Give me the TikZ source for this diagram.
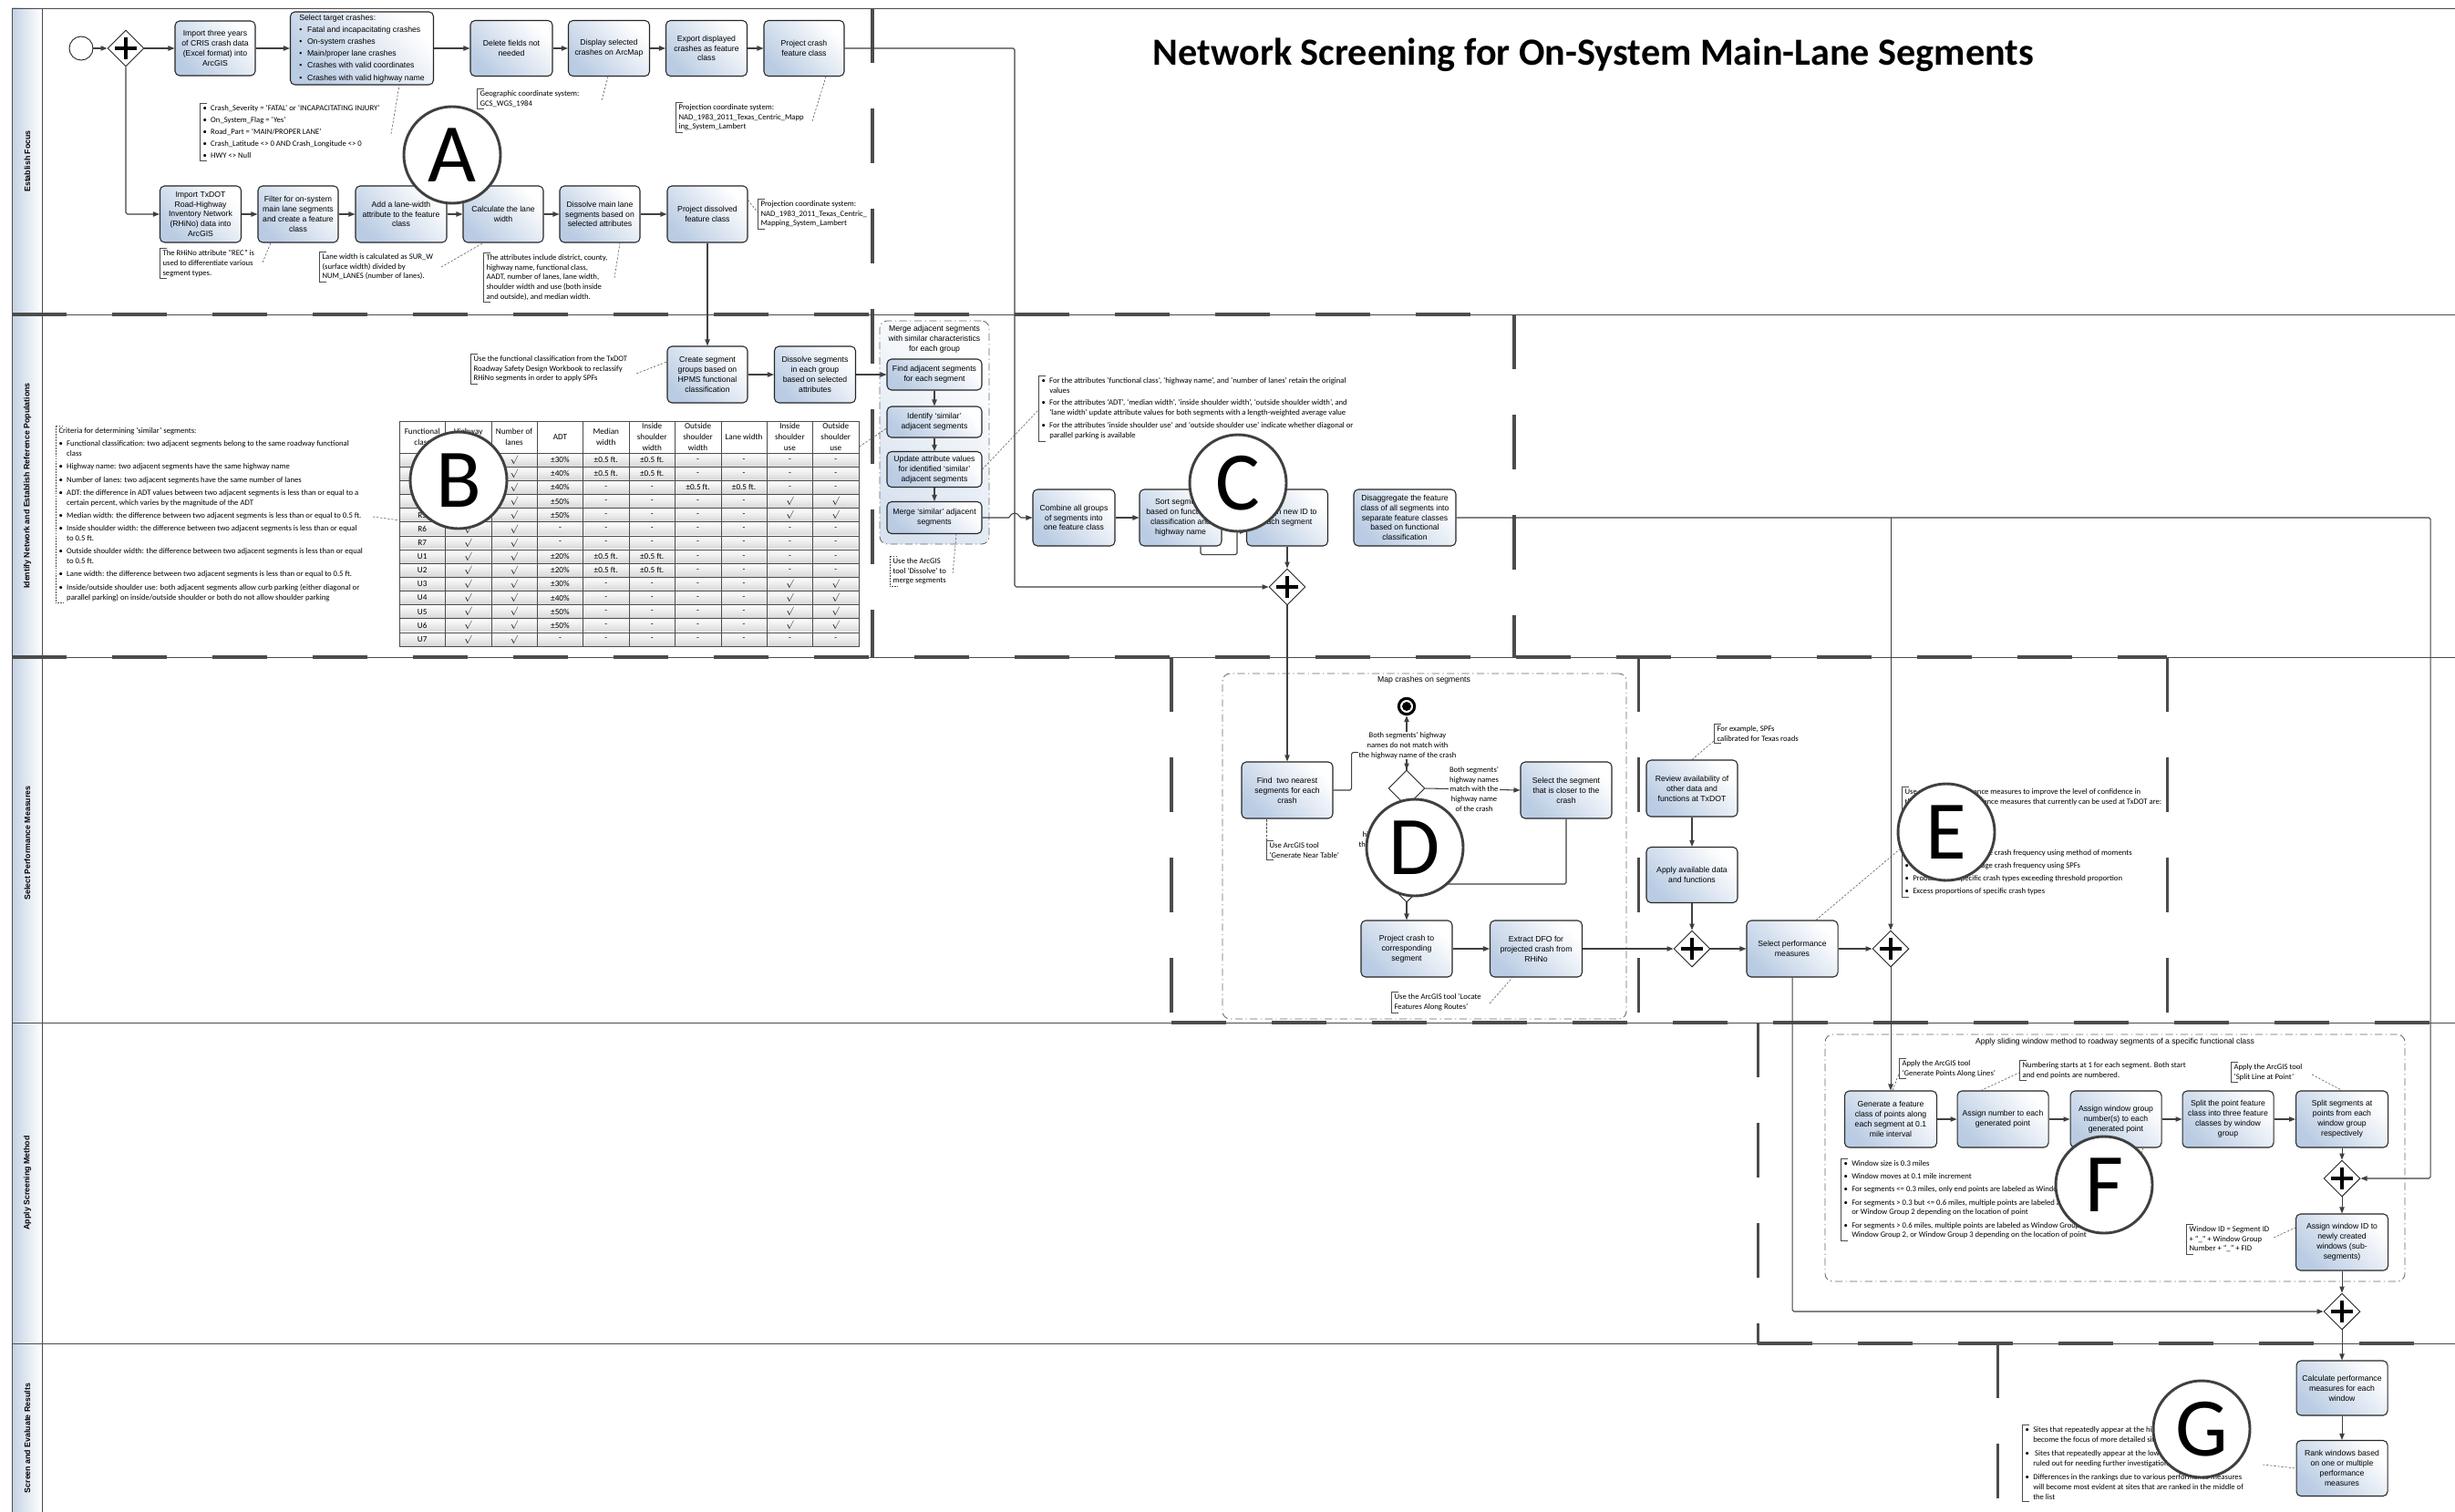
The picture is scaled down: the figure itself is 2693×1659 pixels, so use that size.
\documentclass[tikz,border=0pt]{standalone}
\usepackage{fontspec}
\setmainfont{Liberation Sans}
\newfontfamily\calib{Carlito}
\usepackage{tikz}
\usetikzlibrary{positioning}
\usetikzlibrary{shapes.geometric}
\usetikzlibrary{arrows.meta}
\usetikzlibrary{calc}
\usepackage{xcolor}

\definecolor{boxblue}{HTML}{BACCE3}
\definecolor{laneblue}{HTML}{C4D2E4}

\newcommand{\nbul}{\makebox[0.26cm][l]{\textbullet}}
\newcommand{\nind}{\hspace*{0.26cm}}
\newcommand{\tck}{$\surd$}
\newcommand{\thf}{±0.5 ft.}
\newcommand{\brak}[1]{\draw[notebr] ([xshift=0.25cm]#1.north west) -| (#1.south west) -- ++(0.25cm,0);}

\tikzset{
  wh/.style 2 args={minimum width=#1*0.03cm, minimum height=#2*0.03cm},
  box/.style={draw=black!85, line width=0.9pt, rounded corners=0.15cm, left color=boxblue, right color=white, shading angle=135, align=center, inner sep=1pt, font=\fontsize{7.4}{9.3}\selectfont},
  flow/.style={draw=black!75, line width=0.9pt, rounded corners=1.5pt, -{Triangle[length=0.21cm,width=0.16cm]}},
  assoc/.style={draw=black!70, line width=0.45pt, dash pattern=on 2pt off 1.5pt},
  notebr/.style={draw=black!70, line width=0.7pt},
  note/.style={anchor=north west, align=left, inner xsep=0.1cm, inner ysep=0.06cm, font=\calib\fontsize{7.4}{9.2}\selectfont},
  lbl/.style={fill=white, align=center, inner sep=0.5pt, font=\calib\fontsize{7.3}{9.3}\selectfont},
  gate/.style={diamond, draw=black!85, line width=0.8pt, fill=white, minimum width=1.2cm, minimum height=1.2cm, inner sep=0pt,
    path picture={\draw[line width=4pt, black] ([xshift=-0.36cm]path picture bounding box.center) -- ([xshift=0.36cm]path picture bounding box.center)
      ([yshift=-0.36cm]path picture bounding box.center) -- ([yshift=0.36cm]path picture bounding box.center);}},
  dec/.style={diamond, draw=black!85, line width=0.8pt, fill=white, minimum width=1.2cm, minimum height=1.2cm, inner sep=0pt},
  endev/.style={circle, draw=black, line width=2.6pt, fill=white, minimum size=0.52cm, inner sep=0pt,
    path picture={\fill[black] (path picture bounding box.center) circle (0.15cm);}},
  letter/.style={circle, draw=black!75, line width=2.5pt, fill=white, minimum size=3.18cm, inner sep=0pt, font=\calib\fontsize{78}{78}\selectfont},
  stepline/.style={draw=black!70, line width=2.6pt, dash pattern=on 1.8cm off 1.5cm},
  laneline/.style={draw=black!70, line width=0.7pt},
  lane/.style={draw=black!70, line width=0.7pt, left color=laneblue, right color=white},
  lanetxt/.style={rotate=90, font=\bfseries\fontsize{7.5}{9}\selectfont},
  grp/.style={draw=black!60, line width=0.7pt, rounded corners=0.25cm, dash pattern=on 7pt off 3pt on 1pt off 3pt},
  grpttl/.style={align=center, font=\fontsize{7.4}{9.3}\selectfont},
  tcell/.style={align=center, inner sep=0pt, font=\calib\fontsize{7.8}{10}\selectfont},
}

\begin{document}
\begin{tikzpicture}[x=0.03cm, y=-0.03cm]
\useasboundingbox (0,0) rectangle (2693,1659);
\clip (0,0) rectangle (2693,1659);
\fill[white] (0,0) rectangle (2693,1659);

%%%%%% lanes %%%
{
\foreach \ya/\yb in {9/345, 345/721, 721/1122, 1122/1474, 1474/1700}
  \draw[lane] (13,\ya) rectangle (46,\yb);
\draw[laneline] (46,9) -- (2693,9);
\foreach \yy in {345,721,1122,1474}
  \draw[laneline] (46,\yy) -- (2693,\yy);

\node[lanetxt] (lnA) at (30,177) {Establish Focus};
\node[lanetxt] (lnB) at (30,533) {Identify Network and Establish Reference Populations};
\node[lanetxt] (lnC) at (30,925) {Select Performance Measures};
\node[lanetxt] (lnD) at (30,1298) {Apply Screening Method};
\node[lanetxt] (lnE) at (30,1578) {Screen and Evaluate Results};
}

%%%%%% step borders %%%
{
\draw[stepline] (13,345) -- (1661,345);
\draw[stepline] (957,9) -- (957,721);
\draw[stepline] (13,721) -- (2377,721);
\draw[stepline] (1661,345) -- (1661,721);
\draw[stepline] (1285,721) -- (1285,1122);
\draw[stepline] (1797,721) -- (1797,1122);
\draw[stepline] (2377,721) -- (2377,1122);
\draw[stepline] (1285,1122) -- (2693,1122);
\draw[stepline] (1928,1122) -- (1928,1474);
\draw[stepline] (1928,1474) -- (2693,1474);
\draw[stepline] (2191,1474) -- (2191,1700);
}

\node[font=\calib\bfseries\fontsize{36}{40}\selectfont] (title) at (1748,60) {Network Screening for On-System Main-Lane Segments};

%%%%%%%%%% Establish Focus %%%%%%%%
{
\node[circle, draw=black!85, line width=0.8pt, fill=white, wh={26}{26}, inner sep=0pt] (start) at (89,53) {};
\node[gate] (gA) at (138,53) {};
\node[box, wh={88}{60}] (crisimp) at (236,53) {Import three years\\of CRIS crash data\\(Excel format) into\\ArcGIS};
\node[box, wh={157}{80}, align=left] (seltgt) at (397,53) {Select target crashes:\\[1.9pt]%
\nbul Fatal and incapacitating crashes\\[1.9pt]%
\nbul On-system crashes\\[1.9pt]%
\nbul Main/proper lane crashes\\[1.9pt]%
\nbul Crashes with valid coordinates\\[1.9pt]%
\nbul Crashes with valid highway name};
\node[box, wh={90}{61}] (delfld) at (561,53) {Delete fields not\\needed};
\node[box, wh={89}{61}] (dispcr) at (668,53) {Display selected\\crashes on ArcMap};
\node[box, wh={89}{61}] (expcr) at (775,53) {Export displayed\\crashes as feature\\class};
\node[box, wh={88}{61}] (prjcr) at (882,53) {Project crash\\feature class};

\node[box, wh={89}{62}] (rhino) at (220,235) {Import TxDOT\\Road-Highway\\Inventory Network\\(RHiNo) data into\\ArcGIS};
\node[box, wh={88}{62}] (filt) at (327,235) {Filter for on-system\\main lane segments\\and create a feature\\class};
\node[box, wh={100}{62}] (addlw) at (440,235) {Add a lane-width\\attribute to the feature\\class};
\node[box, wh={88}{62}] (calclw) at (552,235) {Calculate the lane\\width};
\node[box, wh={88}{62}] (dissml) at (658,235) {Dissolve main lane\\segments based on\\selected attributes};
\node[box, wh={88}{62}] (prjdis) at (776,235) {Project dissolved\\feature class};

\draw[flow] (start) -- (gA);
\draw[flow] (gA) -- (crisimp);
\draw[flow] (crisimp) -- (seltgt);
\draw[flow] (seltgt) -- (delfld);
\draw[flow] (delfld) -- (dispcr);
\draw[flow] (dispcr) -- (expcr);
\draw[flow] (expcr) -- (prjcr);
\draw[flow] (gA.south) |- (rhino.west);
\draw[flow] (rhino) -- (filt);
\draw[flow] (filt) -- (addlw);
\draw[flow] (addlw) -- (calclw);
\draw[flow] (calclw) -- (dissml);
\draw[flow] (dissml) -- (prjdis);

% notes
\node[note] (nsev) at (219,113) {\nbul Crash\_Severity = ‘FATAL’ or ‘INCAPACITATING INJURY’\\[2pt]%
\nbul On\_System\_Flag = ‘Yes’\\[2pt]%
\nbul Road\_Part = ‘MAIN/PROPER LANE’\\[2pt]%
\nbul Crash\_Latitude <> 0 AND Crash\_Longitude <> 0\\[2pt]%
\nbul HWY <> Null};
\brak{nsev}
\draw[assoc] ($(nsev.north west)+(210,34)$) -- ($(seltgt.south)+(41,0)$);

\node[note] (ngcs) at (523,97) {Geographic coordinate system:\\GCS\_WGS\_1984};
\brak{ngcs}
\draw[assoc] ($(ngcs.north west)+(137,13)$) -- ($(dispcr.south)+(-1,0)$);

\node[note] (nprja) at (741,112) {Projection coordinate system:\\NAD\_1983\_2011\_Texas\_Centric\_Mapp\\ing\_System\_Lambert};
\brak{nprja}
\draw[assoc] ($(nprja.north west)+(150,21)$) -- ($(prjcr.south)+(24,0)$);

\node[note] (nrec) at (175,272) {The RHiNo attribute “REC” is\\used to differentiate various\\segment types.};
\brak{nrec}
\draw[assoc] ($(nrec.north west)+(113,16)$) -- ($(filt.south)+(-30,0)$);

\node[note] (nlw) at (350,276) {Lane width is calculated as SUR\_W\\(surface width) divided by\\NUM\_LANES (number of lanes).};
\brak{nlw}
\draw[assoc] ($(nlw.north west)+(134,17)$) -- ($(calclw.south)+(-22,0)$);

\node[note] (nattr) at (530,277) {The attributes include district, county,\\highway name, functional class,\\AADT, number of lanes, lane width,\\shoulder width and use (both inside\\and outside), and median width.};
\brak{nattr}
\draw[assoc] ($(nattr.north west)+(144,28)$) -- ($(dissml.south)+(22,0)$);

\node[note] (nprjb) at (831,218) {Projection coordinate system:\\NAD\_1983\_2011\_Texas\_Centric\_\\Mapping\_System\_Lambert};
\brak{nprjb}
\draw[assoc] ($(prjdis.north east)+(0,16)$) -- ($(nprjb.north west)+(0,15)$);
}

%%%%%%%%%% Identify Network %%%%%%%%
{
\node[box, wh={88}{62}] (crtgrp) at (776,411) {Create segment\\groups based on\\HPMS functional\\classification};
\node[box, wh={89}{62}] (dissgrp) at (894,411) {Dissolve segments\\in each group\\based on selected\\attributes};
\draw[flow] (prjdis) -- (crtgrp);
\draw[flow] (crtgrp) -- (dissgrp);

\node[note] (nfc) at (516,388) {Use the functional classification from the TxDOT\\Roadway Safety Design Workbook to reclassify\\RHiNo segments in order to apply SPFs};
\brak{nfc}
\draw[assoc] ($(nfc.north west)+(182,22)$) -- ($(crtgrp.west)+(0,-14)$);

\node[note] (ncrit) at (61,467) {Criteria for determining ‘similar’ segments:\\[3pt]%
\nbul Functional classification: two adjacent segments belong to the same roadway functional\\\nind class\\[3pt]%
\nbul Highway name: two adjacent segments have the same highway name\\[3pt]%
\nbul Number of lanes: two adjacent segments have the same number of lanes\\[3pt]%
\nbul ADT: the difference in ADT values between two adjacent segments is less than or equal to a\\\nind certain percent, which varies by the magnitude of the ADT\\[3pt]%
\nbul Median width: the difference between two adjacent segments is less than or equal to 0.5 ft.\\[3pt]%
\nbul Inside shoulder width: the difference between two adjacent segments is less than or equal\\\nind to 0.5 ft.\\[3pt]%
\nbul Outside shoulder width: the difference between two adjacent segments is less than or equal\\\nind to 0.5 ft.\\[3pt]%
\nbul Lane width: the difference between two adjacent segments is less than or equal to 0.5 ft.\\[3pt]%
\nbul Inside/outside shoulder use: both adjacent segments allow curb parking (either diagonal or\\\nind parallel parking) on inside/outside shoulder or both do not allow shoulder parking};
\draw[notebr, dash pattern=on 1.5pt off 1pt] ([xshift=0.25cm]ncrit.north west) -| (ncrit.south west) -- ++(0.25cm,0);

% table
\node[draw=black!70, line width=0.6pt, anchor=north west, wh={504}{247}, inner sep=0pt] (tbl) at (438,462) {};
\foreach \j in {1,...,14}
  \shade[top color=white, bottom color=black!16] (438,{497+15.14*(\j-1)}) rectangle (942,{497+15.14*\j});
\draw[black!70, line width=0.6pt] (tbl.north west) rectangle (tbl.south east);
\foreach \k in {1,...,9}
  \draw[black!70, line width=0.5pt] ({438+50.4*\k},462) -- ({438+50.4*\k},709);
\foreach \j in {0,...,13}
  \draw[black!70, line width=0.5pt] (438,{497+15.14*\j}) -- (942,{497+15.14*\j});
\foreach \h [count=\k from 0] in {{Functional\\class},{Highway\\name},{Number of\\lanes},{ADT},{Median\\width},{Inside\\shoulder\\width},{Outside\\shoulder\\width},{Lane width},{Inside\\shoulder\\use},{Outside\\shoulder\\use}}
  \node[tcell] (th\k) at ({463.2+50.4*\k},479.5) {\h};
\foreach \row [count=\j] in {%
  {R1,\tck,\tck,±30\%,\thf,\thf,-,-,-,-},
  {R2,\tck,\tck,±40\%,\thf,\thf,-,-,-,-},
  {R3,\tck,\tck,±40\%,-,-,\thf,\thf,-,-},
  {R4,\tck,\tck,±50\%,-,-,-,-,\tck,\tck},
  {R5,\tck,\tck,±50\%,-,-,-,-,\tck,\tck},
  {R6,\tck,\tck,-,-,-,-,-,-,-},
  {R7,\tck,\tck,-,-,-,-,-,-,-},
  {U1,\tck,\tck,±20\%,\thf,\thf,-,-,-,-},
  {U2,\tck,\tck,±20\%,\thf,\thf,-,-,-,-},
  {U3,\tck,\tck,±30\%,-,-,-,-,\tck,\tck},
  {U4,\tck,\tck,±40\%,-,-,-,-,\tck,\tck},
  {U5,\tck,\tck,±50\%,-,-,-,-,\tck,\tck},
  {U6,\tck,\tck,±50\%,-,-,-,-,\tck,\tck},
  {U7,\tck,\tck,-,-,-,-,-,-,-}}
  \foreach \cell [count=\k from 0] in \row
    \node[tcell] (c\j-\k) at ({463.2+50.4*\k},{497+15.14*(\j-0.5)}) {\cell};
\draw[assoc] ($(ncrit.north west)+(348,100)$) -- ($(tbl.west)+(0,-15)$);

% merge group
\node[grp, left color=boxblue!55, right color=white, shading angle=135, wh={120}{245}] (mrggrp) at (1025,474.5) {};
\node[grpttl] (mrgttl) at (1025,372) {Merge adjacent segments\\with similar characteristics\\for each group};
\node[box, wh={104}{34}] (fndadj) at (1025,411) {Find adjacent segments\\for each segment};
\node[box, wh={104}{34}] (idsim) at (1025,463) {Identify ‘similar’\\adjacent segments};
\node[box, wh={104}{39}] (updatt) at (1025,515) {Update attribute values\\for identified ‘similar’\\adjacent segments};
\node[box, wh={104}{35}] (mrgsim) at (1025,568) {Merge ‘similar’ adjacent\\segments};
\draw[flow] (dissgrp) -- (fndadj);
\draw[flow] (fndadj) -- (idsim);
\draw[flow] (idsim) -- (updatt);
\draw[flow] (updatt) -- (mrgsim);
\draw[assoc] ($(tbl.north east)+(0,28)$) -- ($(idsim.west)+(0,7)$);

\node[note] (ndis) at (976,610) {Use the ArcGIS\\tool ‘Dissolve’ to\\merge segments};
\draw[notebr, dash pattern=on 1.5pt off 1pt] ([xshift=0.25cm]ndis.north west) -| (ndis.south west) -- ++(0.25cm,0);
\draw[assoc] ($(mrgsim.south)+(24,0)$) -- ($(ndis.north west)+(69,20)$);

\node[note] (navg) at (1139,412) {\nbul For the attributes ‘functional class’, ‘highway name’, and ‘number of lanes’ retain the original\\\nind values\\[2.5pt]%
\nbul For the attributes ‘ADT’, ‘median width’, ‘inside shoulder width’, ‘outside shoulder width’, and\\\nind ‘lane width’ update attribute values for both segments with a length-weighted average value\\[2.5pt]%
\nbul For the attributes ‘inside shoulder use’ and ‘outside shoulder use’ indicate whether diagonal or\\\nind parallel parking is available};
\brak{navg}
\draw[assoc] (updatt.east) -- ($(navg.north west)+(0,38)$);

\node[box, wh={90}{62}] (cmball) at (1178,568) {Combine all groups\\of segments into\\one feature class};
\node[box, wh={90}{62}] (sortseg) at (1295,568) {Sort segments\\based on functional\\classification and\\highway name};
\node[box, wh={89}{62}] (newid) at (1412,568) {Assign new ID to\\each segment};
\node[box, wh={112}{62}] (disagg) at (1541,568) {Disaggregate the feature\\class of all segments into\\separate feature classes\\based on functional\\classification};
\node[gate] (gB) at (1412,644) {};

\draw[flow] (mrgsim.east) -- (1108,568) arc[start angle=180, end angle=360, radius=5] -- (cmball.west);
\draw[flow] (cmball) -- (sortseg);
\draw[flow] ($(sortseg.south)+(22,0)$) -- ++(0,9) -| ($(newid.west)+(-10,15)$) -- ($(newid.west)+(0,15)$);
\draw[flow] (newid) -- (gB);
}

%%%%%%%%%% Select Performance Measures %%%%%%%%
{
\node[grp, wh={443}{379}] (mapgrp) at (1562.5,928.5) {};
\node[grpttl] (mapttl) at (1562,746) {Map crashes on segments};
\node[box, wh={100}{62}] (find2) at (1412,867) {Find\ \ two nearest\\segments for each\\crash};
\node[endev] (endev) at (1543,775) {};
\node[dec] (dtop) at (1543,865) {};
\node[dec] (dbot) at (1543,970) {};
\node[box, wh={100}{62}] (closer) at (1718,867) {Select the segment\\that is closer to the\\crash};
\node[box, wh={100}{62}] (prjcrs) at (1543,1041) {Project crash to\\corresponding\\segment};
\node[box, wh={101}{62}] (dfo) at (1685,1041) {Extract DFO for\\projected crash from\\RHiNo};

\draw[flow] (find2.east) -- ++(20,0) |- ($(dtop.north)+(0,-19)$) -- (dtop.north);
\draw[flow] (dtop.north) -- (endev.south);
\node[lbl] (lno) at (1544,818) {Both segments’ highway\\names do not match with\\the highway name of the crash};
\draw[flow] (dtop.east) -- (closer.west);
\node[lbl] (lyes) at (1617,866) {Both segments’\\highway names\\match with the\\highway name\\of the crash};
\draw[flow] (dtop.south) -- (dbot.north);
\node[lbl] (lone) at (1544,916) {Only one segment’s\\highway name matches with\\the highway name of the crash};
\draw[flow] (closer.south) |- (dbot.east);
\draw[flow] (dbot.south) -- (prjcrs.north);
\draw[flow] (prjcrs) -- (dfo);

\node[note] (nnear) at (1389,922) {Use ArcGIS tool\\‘Generate Near Table’};
\brak{nnear}
\draw[assoc] (nnear.north west) -- (nnear.north west |- find2.south);
\node[note] (nloc) at (1526,1088) {Use the ArcGIS tool ‘Locate\\Features Along Routes’};
\brak{nloc}
\draw[assoc] ($(nloc.north west)+(108,13)$) -- ($(dfo.south)+(-26,0)$);

\node[box, wh={100}{62}] (review) at (1856,865) {Review availability of\\other data and\\functions at TxDOT};
\node[box, wh={100}{61}] (applyd) at (1856,960) {Apply available data\\and functions};
\node[gate] (gC) at (1856,1041) {};
\node[box, wh={100}{62}] (selpm) at (1966,1041) {Select performance\\measures};
\node[gate] (gD) at (2074,1041) {};
\draw[flow] (review) -- (applyd);
\draw[flow] (applyd) -- (gC);
\draw[flow] (dfo) -- (gC);
\draw[flow] (gC) -- (selpm);
\draw[flow] (selpm) -- (gD);

\node[note] (nspf) at (1880,794) {For example, SPFs\\calibrated for Texas roads};
\brak{nspf}
\draw[assoc] (review.north) -- ($(nspf.north west)+(0,19)$);

\node[note] (npm) at (2086,863) {Use multiple performance measures to improve the level of confidence in\\%
the results. The performance measures that currently can be used at TxDOT are:\\[1.38cm]%
\nbul Excess predicted average crash frequency using method of moments\\[2.7pt]%
\nbul Excess predicted average crash frequency using SPFs\\[2.7pt]%
\nbul Probability of specific crash types exceeding threshold proportion\\[2.7pt]%
\nbul Excess proportions of specific crash types};
\brak{npm}
\draw[assoc] ($(selpm.north)+(26,0)$) -- ($(npm.north west)+(0,67)$);
}

%%%%%%%%%% Apply Screening Method %%%%%%%%
{
\node[grp, wh={636}{271}] (wingrp) at (2320,1270.5) {};
\node[grpttl] (winttl) at (2320,1143) {Apply sliding window method to roadway segments of a specific functional class};
\node[box, wh={101}{62}] (genpts) at (2074,1228) {Generate a feature\\class of points along\\each segment at 0.1\\mile interval};
\node[box, wh={100}{62}] (numpts) at (2197,1228) {Assign number to each\\generated point};
\node[box, wh={100}{62}] (wgrp) at (2321,1228) {Assign window group\\number(s) to each\\generated point};
\node[box, wh={100}{62}] (splpts) at (2444,1228) {Split the point feature\\class into three feature\\classes by window\\group};
\node[box, wh={101}{62}] (splseg) at (2569,1228) {Split segments at\\points from each\\window group\\respectively};
\node[gate] (gwin) at (2569,1293) {};
\node[box, wh={101}{62}] (winid) at (2569,1363) {Assign window ID to\\newly created\\windows (sub-\\segments)};
\node[gate] (gE) at (2569,1439) {};

\draw[flow] (genpts) -- (numpts);
\draw[flow] (numpts) -- (wgrp);
\draw[flow] (wgrp) -- (splpts);
\draw[flow] (splpts) -- (splseg);
\draw[flow] (splseg) -- (gwin);
\draw[flow] (gwin) -- (winid);
\draw[flow] (winid) -- (gE);

\node[note] (ngpl) at (2083,1161) {Apply the ArcGIS tool\\‘Generate Points Along Lines’};
\brak{ngpl}
\draw[assoc] ($(genpts.north)+(2,0)$) -- ($(ngpl.north west)+(0,17)$);
\node[note] (nnum) at (2215,1163) {Numbering starts at 1 for each segment. Both start\\and end points are numbered.};
\brak{nnum}
\draw[assoc] ($(numpts.north)+(-24,0)$) -- ($(nnum.north west)+(0,14)$);
\node[note] (nspl) at (2447,1165) {Apply the ArcGIS tool\\‘Split Line at Point’};
\brak{nspl}
\draw[assoc] ($(nspl.north west)+(89,14)$) -- (splseg.north);

\node[note] (nwin) at (2019,1271) {\nbul Window size is 0.3 miles\\[3pt]%
\nbul Window moves at 0.1 mile increment\\[3pt]%
\nbul For segments <= 0.3 miles, only end points are labeled as Window Group 1\\[3pt]%
\nbul For segments > 0.3 but <= 0.6 miles, multiple points are labeled as Window Group 1\\\nind or Window Group 2 depending on the location of point\\[3pt]%
\nbul For segments > 0.6 miles, multiple points are labeled as Window Group 1,\\\nind Window Group 2, or Window Group 3 depending on the location of point};
\brak{nwin}
\draw[assoc] ($(wgrp.south)+(30,0)$) -- ($(nwin.north west)+(326,4)$);

\node[note] (nwid) at (2398,1343) {Window ID = Segment ID\\+ “\_” + Window Group\\Number + “\_” + FID};
\brak{nwid}
\draw[assoc] ($(nwid.north west)+(96,15)$) -- ($(winid.west)+(0,-16)$);
}

%%%%%%%%%% Screen and Evaluate %%%%%%%%
{
\node[box, wh={100}{60}] (calcpm) at (2569,1523) {Calculate performance\\measures for each\\window};
\node[box, wh={100}{61}] (rankw) at (2569,1611) {Rank windows based\\on one or multiple\\performance\\measures};
\draw[flow] (gE) -- (calcpm);
\draw[flow] (calcpm) -- (rankw);

\node[note] (nsite) at (2218,1563) {\nbul Sites that repeatedly appear at the higher end of the list could\\%
\nind become the focus of more detailed site investigations\\[4pt]%
\nbul\ Sites that repeatedly appear at the lower end of the list could be\\%
\nind ruled out for needing further investigations\\[4pt]%
\nbul Differences in the rankings due to various performance measures\\%
\nind will become most evident at sites that are ranked in the middle of\\%
\nind the list};
\brak{nsite}
\draw[assoc] ($(nsite.north west)+(264,44)$) -- (rankw.west);
}

%%%%%%%%%% flows across lanes %%%%%%%%
{
\draw[flow] (prjcr.east) -| (1113,644) -- (gB.west);
\draw[flow] (gB) -- (find2);
\draw[flow] (disagg.east) -| (2666,1293) -- (gwin.east);
\draw[flow] (gD.north |- disagg.east) -- (gD.north);
\draw[flow] (gD) -- (genpts);
\draw[flow] (selpm.south) |- (gE.west);
}

% step letters
{
\node[letter] (lA) at (496,170) {A};
\node[letter] (lB) at (503,527) {B};
\node[letter] (lC) at (1358,530) {C};
\node[letter] (lD) at (1552,930) {D};
\node[letter] (lE) at (2135,913) {E};
\node[letter] (lF) at (2308,1300) {F};
\node[letter] (lG) at (2415,1568) {G};
}

\end{tikzpicture}
\end{document}
